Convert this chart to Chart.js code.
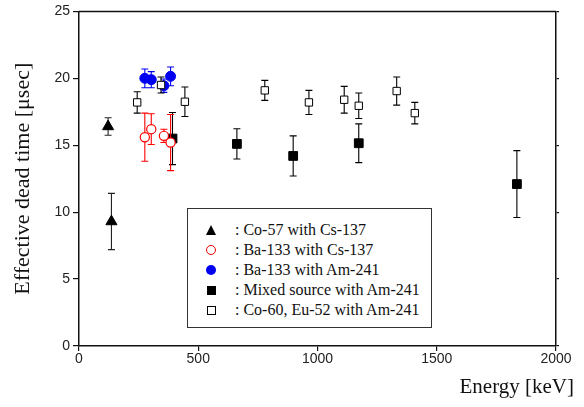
<!DOCTYPE html>
<html>
<head>
<meta charset="utf-8">
<script src="https://cdn.jsdelivr.net/npm/chart.js@4/dist/chart.umd.min.js"></script>
<style>
  body { margin: 0; background: #fff; }
  #wrap { position: relative; width: 584px; height: 407px; }
  #xtitle {
    position: absolute; right: 10px; top: 376px;
    font: 21px "Liberation Serif", "Times New Roman", serif; line-height: 1; color: #111;
  }
  #legend {
    position: absolute; left: 187px; top: 208px; width: 243px; height: 118px;
    border: 1px solid #333; background: #fff;
    font: 16px "Liberation Serif", "Times New Roman", serif; color: #111;
  }
  #legend .row { position: absolute; left: 0; height: 20px; line-height: 20px; }
  #legend .sym { position: absolute; left: 18px; top: 5px; width: 11px; height: 11px; }
  #legend .txt { position: absolute; left: 47px; white-space: nowrap; }
  .tri { width: 0 !important; height: 0 !important; border-left: 5.5px solid transparent; border-right: 5.5px solid transparent; border-bottom: 10px solid #000; }
  .ocirc { border: 1.3px solid #e00; border-radius: 50%; box-sizing: border-box; width: 10px !important; height: 10px !important; }
  .fcirc { background: #0000f0; border-radius: 50%; width: 10px !important; height: 10px !important; }
  .fsq { background: #000; width: 9px !important; height: 9px !important; margin: 1px; }
  .osq { border: 1px solid #000; box-sizing: border-box; width: 9px !important; height: 9px !important; margin: 1px; }
</style>
</head>
<body>
<div id="wrap">
  <canvas id="chart" width="584" height="407"></canvas>
  <div id="xtitle">Energy [keV]</div>
  <div id="legend"></div>
</div>
<script>
// Co-57 with Cs-137
const co57Energy = [122, 136];
const co57Time = [16.4, 9.3];
const co57Err = [0.65, 2.1];

// Ba-133 with Cs-137
const baCsEnergy = [276, 303, 356, 384];
const baCsTime = [15.6, 16.2, 15.7, 15.2];
const baCsErr = [1.8, 1.15, 0.5, 2.1];

// Ba-133 with Am-241
const baAmEnergy = [276, 303, 356, 384];
const baAmTime = [20.0, 19.9, 19.45, 20.15];
const baAmErr = [0.7, 0.6, 0.5, 0.7];

// Mixed source with Am-241
const mixEnergy = [392, 662, 898, 1173, 1836];
const mixTime = [15.5, 15.1, 14.2, 15.15, 12.1];
const mixErr = [1.95, 1.13, 1.5, 1.45, 2.5];

// Co-60, Eu-152 with Am-241
const coEuEnergy = [244, 344, 444, 779, 964, 1112, 1173, 1332, 1408];
const coEuTime = [18.2, 19.5, 18.25, 19.1, 18.2, 18.4, 17.95, 19.05, 17.4];
const coEuErr = [0.8, 0.6, 1.1, 0.75, 0.9, 1.0, 0.95, 1.05, 0.8];

const xTicks = [0, 500, 1000, 1500, 2000];
const yTicks = [0, 5, 10, 15, 20, 25];

function points(xs, ys, es) {
    return xs.map((x, i) => ({ x: x, y: ys[i], err: es[i] }));
}

const series = [
    { label: ': Co-57 with Cs-137', data: points(co57Energy, co57Time, co57Err),
      pointStyle: 'triangle', pointRadius: 6.4, backgroundColor: '#000', borderColor: '#000', borderWidth: 1,
      errColor: '#222', order: 1, sym: 'tri' },
    { label: ': Ba-133 with Cs-137', data: points(baCsEnergy, baCsTime, baCsErr),
      pointStyle: 'circle', pointRadius: 4.6, backgroundColor: '#fff', borderColor: '#f00', borderWidth: 1.2,
      errColor: '#f00', order: 2, sym: 'ocirc' },
    { label: ': Ba-133 with Am-241', data: points(baAmEnergy, baAmTime, baAmErr),
      pointStyle: 'circle', pointRadius: 5, backgroundColor: '#0000f0', borderColor: '#0000f0', borderWidth: 1,
      errColor: '#0000f0', order: 4, sym: 'fcirc' },
    { label: ': Mixed source with Am-241', data: points(mixEnergy, mixTime, mixErr),
      pointStyle: 'rect', pointRadius: 6.2, backgroundColor: '#000', borderColor: '#000', borderWidth: 1,
      errColor: '#000', order: 5, sym: 'fsq' },
    { label: ': Co-60, Eu-52 with Am-241', data: points(coEuEnergy, coEuTime, coEuErr),
      pointStyle: 'rect', pointRadius: 5.2, backgroundColor: '#fff', borderColor: '#000', borderWidth: 1,
      errColor: '#000', order: 3, sym: 'osq' }
];

// vertical error bars with caps, drawn just before each dataset's markers
const errorBars = {
    id: 'errorBars',
    beforeDatasetDraw(chart, args) {
        const ds = chart.data.datasets[args.index];
        const xs = chart.scales.x, ys = chart.scales.y;
        const ctx = chart.ctx;
        ctx.save();
        ctx.strokeStyle = ds.errColor;
        ctx.lineWidth = 1.1;
        ds.data.forEach(p => {
            const px = xs.getPixelForValue(p.x);
            const top = ys.getPixelForValue(p.y + p.err);
            const bot = ys.getPixelForValue(p.y - p.err);
            ctx.beginPath();
            ctx.moveTo(px, top); ctx.lineTo(px, bot);
            ctx.moveTo(px - 3.5, top); ctx.lineTo(px + 3.5, top);
            ctx.moveTo(px - 3.5, bot); ctx.lineTo(px + 3.5, bot);
            ctx.stroke();
        });
        ctx.restore();
    }
};

// top border of the plot box
const frame = {
    id: 'frame',
    afterDraw(chart) {
        const a = chart.chartArea, ctx = chart.ctx;
        ctx.save();
        ctx.strokeStyle = '#111';
        ctx.lineWidth = 1.5;
        ctx.beginPath();
        ctx.moveTo(a.left, a.top); ctx.lineTo(a.right, a.top);
        ctx.stroke();
        ctx.restore();
    }
};

const tickFont = { family: '"Liberation Sans", Arial, sans-serif', size: 14 };

new Chart(document.getElementById('chart'), {
    type: 'scatter',
    data: { datasets: series },
    options: {
        responsive: false,
        animation: false,
        layout: { padding: { top: 11, left: 0, right: 0, bottom: 0 } },
        plugins: { legend: { display: false }, tooltip: { enabled: false } },
        scales: {
            x: {
                type: 'linear', min: 0, max: 2000,
                afterBuildTicks: s => { s.ticks = xTicks.map(v => ({ value: v })); },
                afterFit: s => { s.height = 61; },
                ticks: { font: tickFont, color: '#222', padding: 0, maxRotation: 0, callback: v => String(v) },
                grid: { display: true, drawOnChartArea: false, tickLength: 5, color: '#111', lineWidth: 1.2 },
                border: { display: true, color: '#111', width: 1.5 }
            },
            y: {
                type: 'linear', min: 0, max: 25,
                afterBuildTicks: s => { s.ticks = yTicks.map(v => ({ value: v })); },
                afterFit: s => { s.width = 79; },
                ticks: { font: tickFont, color: '#222', padding: 3, callback: v => String(v) },
                grid: { display: true, drawOnChartArea: false, tickLength: 6, color: '#111', lineWidth: 1.2 },
                border: { display: true, color: '#111', width: 1.5 },
                title: {
                    display: true, text: 'Effective dead time [μsec]', color: '#111',
                    font: { family: '"Liberation Serif", "Times New Roman", serif', size: 22 },
                    padding: { top: 10, bottom: 0 }
                }
            },
            y2: {
                type: 'linear', position: 'right', min: 0, max: 25,
                afterBuildTicks: s => { s.ticks = yTicks.map(v => ({ value: v })); },
                afterFit: s => { s.width = 28; },
                ticks: { display: false },
                grid: { display: true, drawOnChartArea: false, tickLength: 3, color: '#111', lineWidth: 1.2 },
                border: { display: true, color: '#111', width: 1.5 }
            }
        }
    },
    plugins: [errorBars, frame]
});

// legend box
const legend = document.getElementById('legend');
series.forEach((s, i) => {
    const row = document.createElement('div');
    row.className = 'row';
    row.style.top = (11 + i * 20) + 'px';
    row.style.width = '100%';
    row.innerHTML = '<div class="sym ' + s.sym + '"></div><div class="txt">' + s.label + '</div>';
    legend.appendChild(row);
});
</script>
</body>
</html>
